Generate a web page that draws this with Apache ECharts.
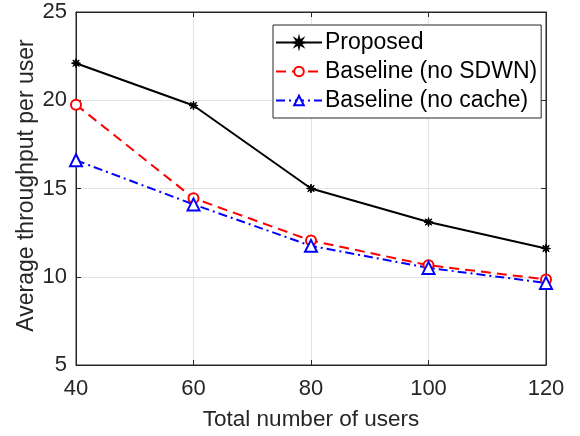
<!DOCTYPE html>
<html>
<head>
<meta charset="utf-8">
<script src="https://cdn.jsdelivr.net/npm/echarts@6/dist/echarts.min.js"></script>
<style>
  html, body { margin: 0; padding: 0; background: #fff; }
  #main { width: 580px; height: 436px; }
</style>
</head>
<body>
<div id="main"></div>
<script>
var users = [40, 60, 80, 100, 120];
var proposed = [22.1, 19.7, 15.0, 13.1, 11.6];
var noSdwn = [19.75, 14.45, 12.05, 10.65, 9.85];
var noCache = [16.6, 14.1, 11.75, 10.5, 9.65];
var xTicks = [40, 60, 80, 100, 120];
var yTicks = [5, 10, 15, 20, 25];

// matlab-like '*' marker
var star = 'path://M10,0L3.7,1.5L7.07,7.07L1.5,3.7L0,10L-1.5,3.7L-7.07,7.07L-3.7,1.5L-10,0L-3.7,-1.5L-7.07,-7.07L-1.5,-3.7L0,-10L1.5,-3.7L7.07,-7.07L3.7,-1.5Z';

var font = 'Liberation Sans';
var axisColor = '#262626';

function pairs(ys) {
    return users.map(function (x, i) { return [x, ys[i]]; });
}

var myChart = echarts.init(document.getElementById('main'));

myChart.setOption({
    backgroundColor: '#fff',
    animation: false,
    textStyle: { fontFamily: font },
    grid: {
        left: 76,
        top: 12,
        width: 470,
        height: 354,
        show: true,
        borderColor: axisColor,
        borderWidth: 1
    },
    legend: {
        orient: 'vertical',
        left: 273,
        top: 25,
        padding: [6, 4, 6, 2],
        itemGap: 6,
        itemWidth: 46,
        itemHeight: 12,
        backgroundColor: '#fff',
        borderColor: axisColor,
        borderWidth: 1,
        borderRadius: 0,
        textStyle: { fontSize: 23, color: '#000', fontFamily: font, padding: [0, 0, 0, -2] },
        data: ['Proposed', 'Baseline (no SDWN)', 'Baseline (no cache)']
    },
    xAxis: [{
        type: 'value',
        min: xTicks[0],
        max: xTicks[xTicks.length - 1],
        interval: 20,
        name: 'Total number of users',
        nameLocation: 'middle',
        nameGap: 43,
        nameMoveOverlap: false,
        nameTextStyle: { fontSize: 22.5, color: axisColor },
        axisLine: { lineStyle: { color: axisColor } },
        axisTick: { inside: true, length: 5, lineStyle: { color: axisColor } },
        axisLabel: { fontSize: 22, color: axisColor, margin: 13 },
        splitLine: { show: true, lineStyle: { color: '#e3e3e3' } }
    }, {
        type: 'value',
        position: 'top',
        min: xTicks[0],
        max: xTicks[xTicks.length - 1],
        interval: 20,
        axisLine: { lineStyle: { color: axisColor } },
        axisTick: { inside: true, length: 5, lineStyle: { color: axisColor } },
        axisLabel: { show: false },
        splitLine: { show: false }
    }],
    yAxis: [{
        type: 'value',
        min: yTicks[0],
        max: yTicks[yTicks.length - 1],
        interval: 5,
        name: 'Average throughput per user',
        nameLocation: 'middle',
        nameGap: 38,
        nameMoveOverlap: false,
        nameTextStyle: { fontSize: 23, color: axisColor, padding: [0, 0, 0, 6] },
        axisLine: { show: true, lineStyle: { color: axisColor } },
        axisTick: { show: true, inside: true, length: 5, lineStyle: { color: axisColor } },
        axisLabel: { fontSize: 22, color: axisColor, margin: 9 },
        splitLine: { show: true, lineStyle: { color: '#e3e3e3' } }
    }, {
        type: 'value',
        position: 'right',
        min: yTicks[0],
        max: yTicks[yTicks.length - 1],
        interval: 5,
        axisLine: { show: true, lineStyle: { color: axisColor } },
        axisTick: { show: true, inside: true, length: 5, lineStyle: { color: axisColor } },
        axisLabel: { show: false },
        splitLine: { show: false }
    }],
    series: [{
        name: 'Proposed',
        type: 'line',
        data: pairs(proposed),
        symbol: star,
        symbolSize: 9,
        lineStyle: { color: '#000', width: 2, type: 'solid' },
        itemStyle: { color: '#000', borderColor: '#000', borderWidth: 1 },
        z: 3
    }, {
        name: 'Baseline (no SDWN)',
        type: 'line',
        data: pairs(noSdwn),
        symbol: 'emptyCircle',
        symbolSize: 10,
        lineStyle: { color: '#ff0000', width: 2, type: [10, 6] },
        itemStyle: { color: '#ff0000', borderColor: '#ff0000', borderWidth: 2 },
        z: 2
    }, {
        name: 'Baseline (no cache)',
        type: 'line',
        data: pairs(noCache),
        symbol: 'emptyTriangle',
        symbolSize: 12,
        lineStyle: { color: '#0000ff', width: 2, type: [9, 4, 2, 4] },
        itemStyle: { color: '#0000ff', borderColor: '#0000ff', borderWidth: 2 },
        z: 2
    }]
});
</script>
</body>
</html>
